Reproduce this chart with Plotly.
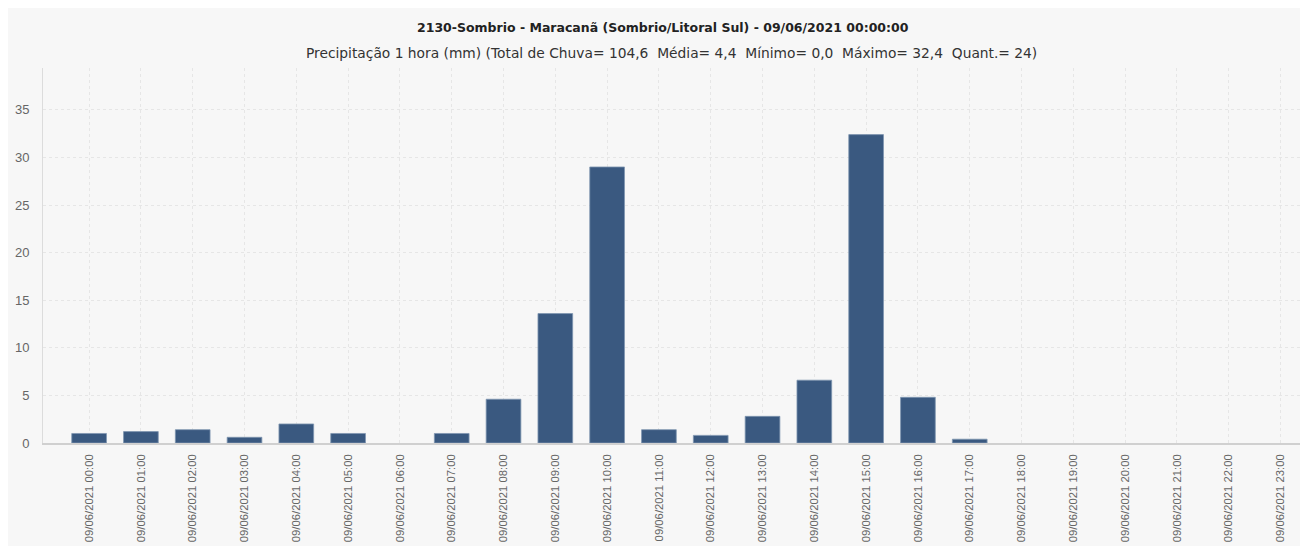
import plotly.graph_objects as go

hours = [f"09/06/2021 {h:02d}:00" for h in range(24)]
precip = [1.0, 1.2, 1.4, 0.6, 2.0, 1.0, 0.0, 1.0, 4.6, 13.6, 29.0, 1.4,
          0.8, 2.8, 6.6, 32.4, 4.8, 0.4, 0.0, 0.0, 0.0, 0.0, 0.0, 0.0]
y_ticks = [0, 5, 10, 15, 20, 25, 30, 35]

title_main = "<b>2130-Sombrio - Maracanã (Sombrio/Litoral Sul) - 09/06/2021 00:00:00</b>"
title_sub = ("Precipitação 1 hora (mm) (Total de Chuva= 104,6  Média= 4,4  "
             "Mínimo= 0,0  Máximo= 32,4  Quant.= 24)")

# page has an 8px body margin; figure coordinates = page coordinates - 8
W, H = 1300, 538
L, R, T, B = 35, 0, 60, 103
pw = W - L - R
ph = H - T - B

outline = ["#7f95b0" if v > 0 else "rgba(0,0,0,0)" for v in precip]

fig = go.Figure()
fig.add_trace(go.Bar(
    x=list(range(24)), y=precip,
    marker=dict(color="#3a5980", line=dict(color=outline, width=0.8)),
    width=0.67,
    hoverinfo="y",
))

fig.update_layout(
    width=W, height=H,
    margin=dict(l=L, r=R, t=T, b=B, autoexpand=False),
    paper_bgcolor="#f7f7f7",
    plot_bgcolor="#f7f7f7",
    font=dict(family="Liberation Sans, Arial, sans-serif", color="#333"),
    showlegend=False,
    xaxis=dict(
        range=[-0.89, 23.53],
        tickmode="array", tickvals=list(range(24)), ticktext=hours,
        tickangle=-90,
        tickfont=dict(size=11.3, color="#666"),
        showgrid=True, gridcolor="#e6e6e6", griddash="dot", gridwidth=1,
        showline=True, linecolor="#d0d0d0", linewidth=1.5,
        zeroline=False, automargin=False, ticks="", ticklen=0,
        ticklabelstandoff=5,
    ),
    yaxis=dict(
        range=[0, 39.4],
        tickmode="array", tickvals=y_ticks,
        tickfont=dict(size=13, color="#666"),
        showgrid=True, gridcolor="#e6e6e6", griddash="dot", gridwidth=1,
        showline=True, linecolor="#dcdcdc", linewidth=1,
        zeroline=False, automargin=False, ticks="", ticklabelstandoff=10,
    ),
)

fig.add_annotation(text=title_main, xref="paper", yref="paper",
                   x=(655 - L) / pw, y=(H - B - 19) / ph, xanchor="center", yanchor="middle",
                   showarrow=False,
                   font=dict(size=12.5, color="#222", family="DejaVu Sans, sans-serif"))
fig.add_annotation(text=title_sub, xref="paper", yref="paper",
                   x=(663 - L) / pw, y=(H - B - 45) / ph, xanchor="center", yanchor="middle",
                   showarrow=False,
                   font=dict(size=13.8, color="#333", family="DejaVu Sans, sans-serif"))

fig.write_html("out.html")
